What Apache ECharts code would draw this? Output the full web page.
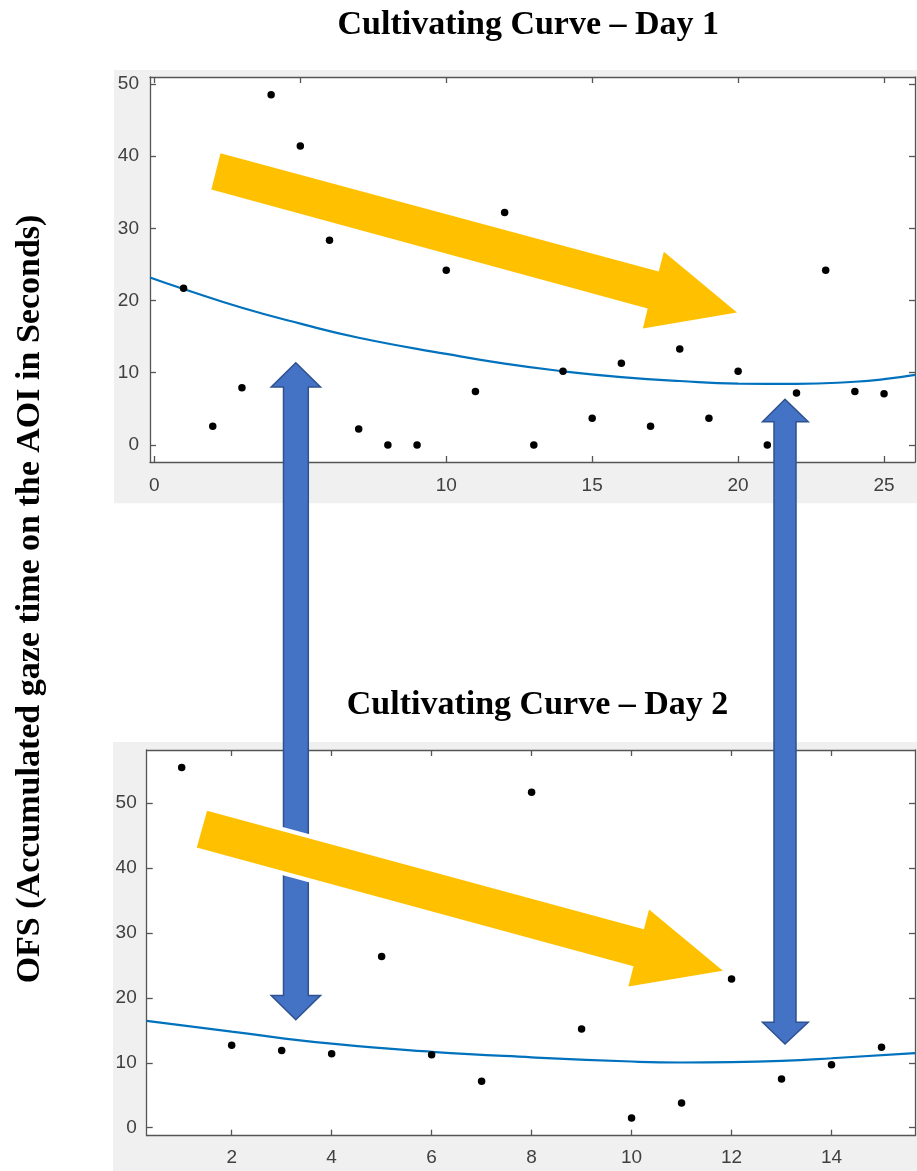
<!DOCTYPE html>
<html><head><meta charset="utf-8">
<script src="https://cdn.jsdelivr.net/npm/echarts@6/dist/echarts.min.js"></script>
<style>html,body{margin:0;padding:0;background:#fff}#c{width:917px;height:1171px}</style>
</head><body><div id="c"></div>
<script>
// ---- Data ----
const day1X = [1,2,3,4,5,6,7,8,9,10,11,12,13,14,15,16,17,18,19,20,21,22,23,24,25];
const day1Y = [21.7,2.6,7.9,48.5,41.4,28.35,2.2,0,0,24.2,7.4,32.2,0,10.2,3.7,11.3,2.6,13.3,3.7,10.2,0,7.2,24.2,7.4,7.1];
const day1FitX = [-0.15,1,3,5,7,10,12,14,16,18,20,22,24,25,26.06];
const day1FitY = [23.2,21.6,19.0,16.8,14.85,12.6,11.25,10.2,9.4,8.85,8.5,8.45,8.75,9.1,9.7];
const day2X = [1,2,3,4,5,6,7,8,9,10,11,12,13,14,15];
const day2Y = [55.5,12.7,11.9,11.4,26.4,11.25,7.15,51.7,15.2,1.5,3.8,22.9,7.5,9.7,12.4];
const day2FitX = [0.3,2,4,6,8,10,11,12,13,14,15.67];
const day2FitY = [16.45,14.8,12.95,11.7,10.85,10.2,10.05,10.1,10.3,10.7,11.5];
const day1XTicks = [0,5,10,15,20,25];
const day1YTicks = [0,10,20,30,40,50];
const day2XTicks = [2,4,6,8,10,12,14];
const day2YTicks = [0,10,20,30,40,50];
const titles = ['Cultivating Curve \u2013 Day 1','Cultivating Curve \u2013 Day 2'];
const yLabel = 'OFS (Accumulated gaze time on the AOI in Seconds)';

// ---- Chart ----
const chart = echarts.init(document.getElementById('c'), null, {renderer:'canvas'});
const AX = '#555555', LBL = '#404040';
const pair = (xs, ys) => xs.map((x,i)=>[x, ys[i]]);

function axis(gridIndex, pos, min, max, ticks, showLabel, margin){
  return {
    type:'value', gridIndex, position:pos, min, max,
    axisLine:{show:true, onZero:false, lineStyle:{color:AX, width:1.3}},
    axisTick:{show:true, inside:true, length:6, customValues:ticks, lineStyle:{color:AX, width:1.3}},
    axisLabel:{show:showLabel, customValues:ticks, color:LBL, fontSize:19,
      fontFamily:'Liberation Sans, Arial, sans-serif', margin},
    splitLine:{show:false}
  };
}

const serifFont = 'bold 34px "Liberation Serif", "Times New Roman", serif';
const option = {
  animation:false,
  backgroundColor:'#fff',
  grid:[
    {left:150, top:77, width:765, height:385, show:true, backgroundColor:'#fff', borderWidth:0},
    {left:146.7, top:750, width:768.3, height:385.7, show:true, backgroundColor:'#fff', borderWidth:0}
  ],
  xAxis:[
    axis(0,'bottom',-0.15,26.06,day1XTicks,true,14),
    axis(0,'top',-0.15,26.06,day1XTicks,false,0),
    axis(1,'bottom',0.3,15.67,day2XTicks,true,13),
    axis(1,'top',0.3,15.67,day2XTicks,false,0)
  ],
  yAxis:[
    axis(0,'left',-2.37,50.97,day1YTicks,true,11),
    axis(0,'right',-2.37,50.97,day1YTicks,false,0),
    axis(1,'left',-1.23,58.2,day2YTicks,true,10),
    axis(1,'right',-1.23,58.2,day2YTicks,false,0)
  ],
  series:[
    {type:'line', xAxisIndex:0, yAxisIndex:0, data:pair(day1FitX,day1FitY), smooth:0.5,
      showSymbol:false, lineStyle:{color:'#0072BD', width:2.2}, z:3},
    {type:'scatter', xAxisIndex:0, yAxisIndex:0, data:pair(day1X,day1Y), symbolSize:7.5,
      itemStyle:{color:'#000', opacity:1}, z:4},
    {type:'line', xAxisIndex:2, yAxisIndex:2, data:pair(day2FitX,day2FitY), smooth:0.5,
      showSymbol:false, lineStyle:{color:'#0072BD', width:2.2}, z:3},
    {type:'scatter', xAxisIndex:2, yAxisIndex:2, data:pair(day2X,day2Y), symbolSize:7.5,
      itemStyle:{color:'#000', opacity:1}, z:4}
  ],
  graphic:[
    {type:'rect', shape:{x:114,y:70,width:803,height:433.3}, style:{fill:'#f0f0f0'}, z:-10, silent:true},
    {type:'rect', shape:{x:113,y:742,width:804,height:429}, style:{fill:'#f0f0f0'}, z:-10, silent:true},
    // blue double arrows
    {type:'polygon', z:100, shape:{points:[[295.8,362.7],[320.5,387],[308.3,387],[308.3,995.5],[320.5,995.5],[295.8,1019.7],[271.2,995.5],[283.5,995.5],[283.5,387],[271.2,387]]},
      style:{fill:'#4472C4', stroke:'#2F528F', lineWidth:1.5}},
    {type:'polygon', z:100, shape:{points:[[785,399.3],[808.2,421.7],[796,421.7],[796,1022.3],[808.2,1022.3],[785,1044],[762.5,1022.3],[774,1022.3],[774,421.7],[762.5,421.7]]},
      style:{fill:'#4472C4', stroke:'#2F528F', lineWidth:1.5}},
    // yellow arrows
    {type:'polygon', z:101, shape:{points:[[219.1,150.7],[657.3,269],[662.7,248.3],[741.6,313.7],[640.2,331],[645.3,310],[208.9,191]]},
      style:{fill:'#FFC000', stroke:'#fff', lineWidth:4}},
    {type:'polygon', z:101, shape:{points:[[205.7,808.3],[642.5,926.7],[647.9,906],[727.5,972],[625.7,989],[631.1,967.7],[194.3,849]]},
      style:{fill:'#FFC000', stroke:'#fff', lineWidth:4}},
    // titles
    {type:'text', z:110, x:528.3, y:25, style:{text:titles[0], fill:'#000', font:serifFont, align:'center', verticalAlign:'middle'}},
    {type:'text', z:110, x:537.5, y:705, style:{text:titles[1], fill:'#000', font:serifFont, align:'center', verticalAlign:'middle'}},
    {type:'text', z:110, x:30, y:599, rotation:Math.PI/2, style:{text:yLabel, fill:'#000', font:serifFont, align:'center', verticalAlign:'middle'}}
  ]
};
chart.setOption(option);
</script>
</body></html>
